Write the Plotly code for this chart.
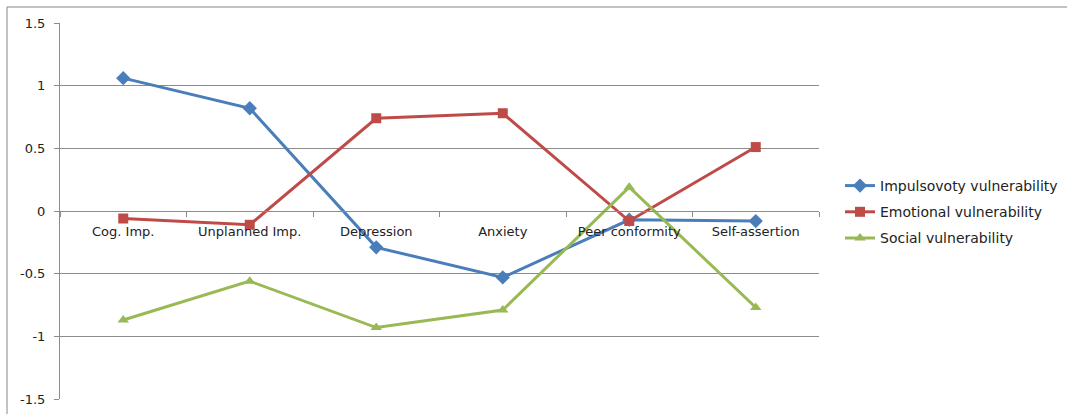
import plotly.graph_objects as go

categories = ["Cog. Imp.", "Unplanned Imp.", "Depression", "Anxiety", "Peer conformity", "Self-assertion"]
impulsivity = [1.06, 0.82, -0.29, -0.53, -0.07, -0.08]
emotional = [-0.06, -0.11, 0.74, 0.78, -0.08, 0.51]
social = [-0.87, -0.56, -0.93, -0.79, 0.19, -0.77]

series = [
    ("Impulsovoty vulnerability", impulsivity, "#4a7ebb", "diamond"),
    ("Emotional vulnerability", emotional, "#be4b48", "square"),
    ("Social vulnerability", social, "#98b954", "triangle-up"),
]

fig = go.Figure()
for i, (name, vals, color, sym) in enumerate(series):
    fig.add_trace(go.Scatter(
        x=categories, y=vals, name=name, mode="lines+markers",
        line=dict(color=color, width=3),
        marker=dict(symbol=sym, size=10 if sym != "diamond" else 11, color=color),
        legendgroup=f"g{i}",
    ))

W, H = 1067, 414
L, R, T, B = 60, 248, 23, 15
pw, ph = W - L - R, H - T - B

def px(xp):
    return (xp - L) / pw

def py(yp):
    return (H - B - yp) / ph

FS = 13

fig.update_layout(
    width=W, height=H,
    margin=dict(l=L, r=R, t=T, b=B, autoexpand=False),
    paper_bgcolor="white", plot_bgcolor="white",
    font=dict(family="DejaVu Sans", size=FS, color="#222222"),
    showlegend=True,
    legend=dict(
        x=px(840), y=py(212), xanchor="left", yanchor="middle",
        font=dict(size=14, color="#222222"),
        tracegroupgap=5, traceorder="grouped",
        bgcolor="rgba(0,0,0,0)",
    ),
    xaxis=dict(
        type="category", anchor="free", position=0.5, automargin=False,
        showline=True, linecolor="#8c8c8c", linewidth=1,
        showgrid=False, ticks="outside", tickson="boundaries",
        ticklen=5, tickcolor="#8c8c8c", ticklabelstandoff=8,
        range=[-0.5, 5.5], tickfont=dict(size=FS, color="#222222"),
    ),
    yaxis=dict(
        range=[-1.5, 1.5], tickvals=[-1.5, -1, -0.5, 0, 0.5, 1, 1.5],
        ticktext=["-1.5", "-1", "-0.5", "0", "0.5", "1", "1.5"],
        automargin=False,
        showgrid=True, gridcolor="#8c8c8c", gridwidth=1,
        zeroline=False, showline=True, linecolor="#8c8c8c", linewidth=1,
        ticks="outside", ticklen=5, tickcolor="#8c8c8c", ticklabelstandoff=6,
        tickfont=dict(size=FS, color="#222222"),
    ),
    shapes=[
        dict(type="line", xref="paper", yref="paper", x0=px(7), x1=px(1067), y0=py(7), y1=py(7),
             line=dict(color="#868686", width=1)),
        dict(type="line", xref="paper", yref="paper", x0=px(7), x1=px(7), y0=py(7), y1=py(414),
             line=dict(color="#868686", width=1)),
    ],
)

fig.write_html("out.html")
